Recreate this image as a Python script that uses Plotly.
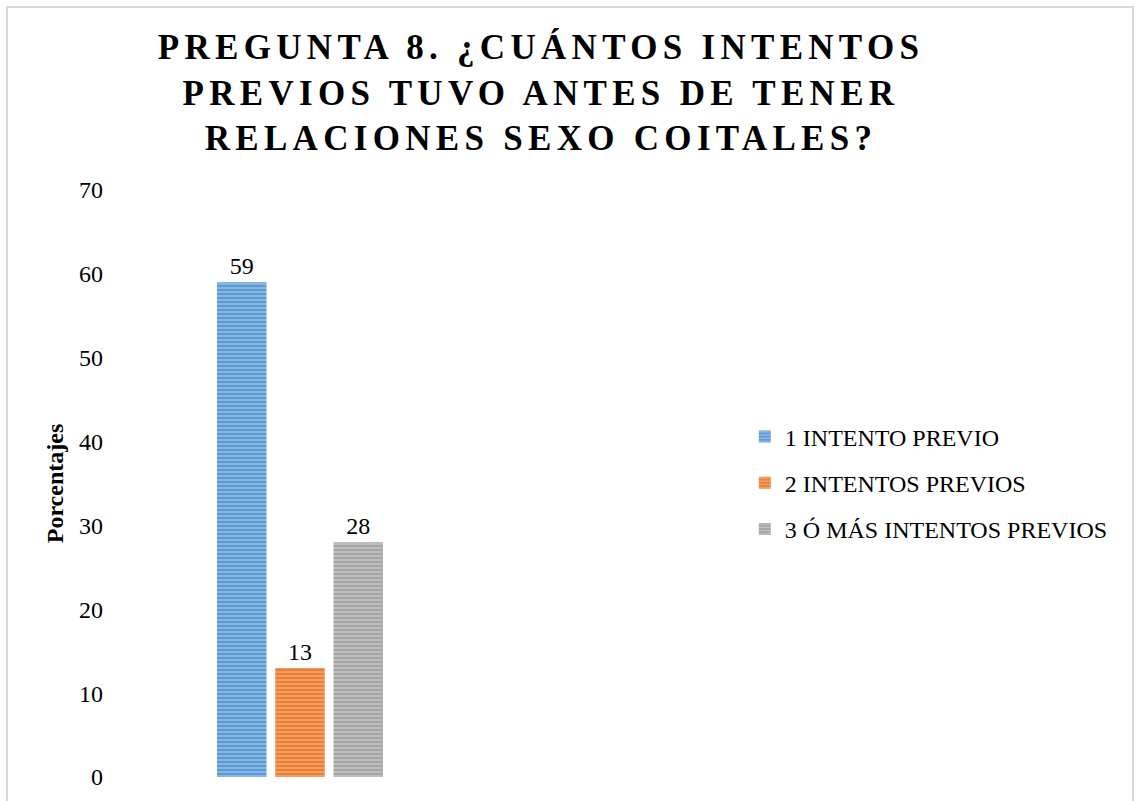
import plotly.graph_objects as go

categories = [""]
series_names = ["1 INTENTO PREVIO", "2 INTENTOS PREVIOS", "3 Ó MÁS INTENTOS PREVIOS"]
series_values = [59, 13, 28]
colors = ["#5B9BD5", "#ED7D31", "#A5A5A5"]
title_lines = ["PREGUNTA 8. ¿CUÁNTOS INTENTOS", "PREVIOS TUVO ANTES DE TENER", "RELACIONES SEXO COITALES?"]
y_ticks = [0, 10, 20, 30, 40, 50, 60, 70]

FONT = "Liberation Serif, Times New Roman, serif"

fig = go.Figure()
for name, val, col in zip(series_names, series_values, colors):
    fig.add_trace(go.Bar(
        x=categories, y=[val], name=name, legendgroup=name,
        marker=dict(color=col, line=dict(width=0),
                    pattern=dict(shape="-", fgcolor="rgba(255,255,255,0.75)", bgcolor=col,
                                 size=4, solidity=0.35, fillmode="overlay")),
        text=[str(val)], textposition="outside", cliponaxis=False,
        textfont=dict(family=FONT, size=24, color="#000000"),
    ))

L, T, R, B = 118, 190, 654, 24
PW, PH = 1136 - L - R, 801 - T - B

fig.update_layout(
    width=1136, height=801,
    paper_bgcolor="white", plot_bgcolor="white",
    barmode="group", bargap=0.52, bargroupgap=0.15,
    margin=dict(l=L, r=R, t=T, b=B),
    font=dict(family=FONT, color="#000000"),
    title=dict(text="<br>".join(title_lines), x=541/1136, xanchor="center", y=0.926, yanchor="top",
               font=dict(family=FONT, size=35, color="#000000", weight="bold")),
    xaxis=dict(showticklabels=False, showgrid=False, zeroline=False, showline=False),
    yaxis=dict(range=[0, 70], tickvals=y_ticks, showgrid=False, zeroline=False, showline=False,
               tickfont=dict(family=FONT, size=24, color="#000000"), ticks="", ticklen=0,
               ticklabelstandoff=14,
               title=dict(text="<b>Porcentajes</b>", font=dict(family=FONT, size=24, color="#000000"), standoff=8)),
    legend=dict(x=1.722, xanchor="left", y=(777 - 483) / PH, yanchor="middle",
                font=dict(family=FONT, size=24, color="#000000"), tracegroupgap=12, itemwidth=30),
    showlegend=True,
)
fig.add_shape(type="rect", xref="paper", yref="paper",
              x0=(7 - L) / PW, x1=(1133 - L) / PW, y0=-0.2, y1=(777 - 7) / PH,
              line=dict(color="#D9D9D9", width=2), fillcolor="rgba(0,0,0,0)", layer="below")

post = ("document.body.style.margin='0';"
        "document.querySelectorAll('.gtitle').forEach(function(e){e.style.letterSpacing='5.3px';});")
fig.write_html("out.html", post_script=post, config={"displayModeBar": False})
